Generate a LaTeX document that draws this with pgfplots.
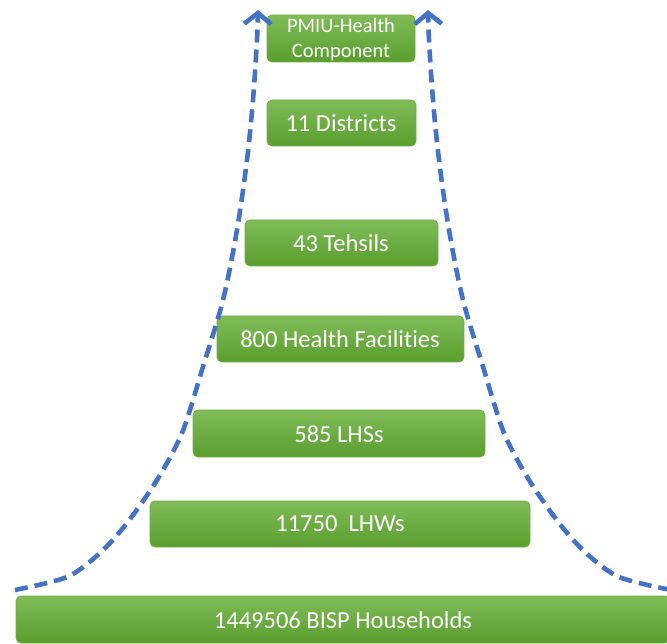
\documentclass[border=0pt]{standalone}
\usepackage{pgfplots}
\pgfplotsset{compat=1.18}
\usepackage{fontspec}
\setmainfont{Carlito}[Ligatures=NoCommon]
\usetikzlibrary{arrows.meta}
\definecolor{gtop}{HTML}{80BC58}
\definecolor{gbot}{HTML}{5A9E2E}
\definecolor{gedge}{HTML}{6FAE45}
\definecolor{dblue}{HTML}{4472C4}
\tikzset{
  box/.style={draw=gedge, line width=0.8pt, top color=gtop, bottom color=gbot, rounded corners=5pt},
  lbl/.style={text=white, font=\fontsize{24.5}{26}\selectfont},
}
\begin{document}
\begin{tikzpicture}
\begin{axis}[
  name=ax,
  width=667pt, height=644pt, scale only axis,
  xmin=0, xmax=667, ymin=0, ymax=644, y dir=reverse,
  axis lines=none, clip=true,
]
% boxes: x1,x2,ytop,ybottom
\addplot[box] coordinates {(267,15)(415,15)(415,62)(267,62)} --cycle;
\addplot[box] coordinates {(267,100)(416,100)(416,146)(267,146)} --cycle;
\addplot[box] coordinates {(245,220)(438,220)(438,266)(245,266)} --cycle;
\addplot[box] coordinates {(217,316)(464,316)(464,362)(217,362)} --cycle;
\addplot[box] coordinates {(193,410)(485,410)(485,457)(193,457)} --cycle;
\addplot[box] coordinates {(150,501)(530,501)(530,547)(150,547)} --cycle;
\addplot[box] coordinates {(16,596)(670,596)(670,643)(16,643)} --cycle;

\node[lbl, font=\fontsize{20.5}{25}\selectfont, align=center] at (axis cs:341,40) {PMIU-Health\\Component};
\node[lbl] at (axis cs:341,123) {11 Districts};
\node[lbl] at (axis cs:341,243) {43 Tehsils};
\node[lbl] at (axis cs:340,339) {800 Health Facilities};
\node[lbl] at (axis cs:339,434) {585 LHSs};
\node[lbl] at (axis cs:340,524) {11750\ \ LHWs};
\node[lbl] at (axis cs:343,620) {1449506 BISP Households};

% dashed curves
\addplot[dblue, line width=4.6pt, dash pattern=on 13pt off 7pt, smooth, tension=0.5,
  -{Straight Barb[length=11pt, width=27pt, line width=4.6pt]}]
  coordinates {(15,590)(67,577)(100,553)(127,523)(157,480)(182,433)(202,370)(223,300)(237,230)(247,160)(253,100)(257,40)(258,10)};
\addplot[dblue, line width=4.6pt, dash pattern=on 13pt off 7pt, smooth, tension=0.5,
  -{Straight Barb[length=11pt, width=27pt, line width=4.6pt]}]
  coordinates {(671,590)(619,577)(586,553)(559,523)(529,480)(504,433)(484,370)(463,300)(449,230)(439,160)(433,100)(429,40)(428,10)};
\end{axis}
\pgfresetboundingbox
\path[use as bounding box] (ax.south west) rectangle (ax.north east);
\end{tikzpicture}
\end{document}
